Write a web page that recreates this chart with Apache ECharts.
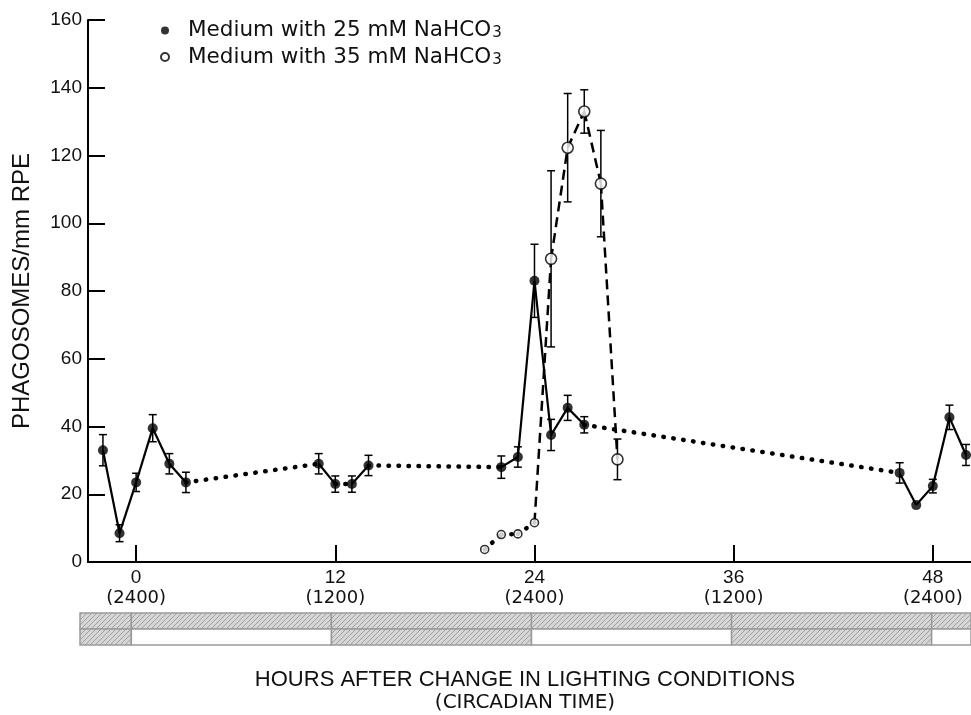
<!DOCTYPE html>
<html lang="en">
<head>
    <meta charset="UTF-8">
    <title>Phagosomes</title>
    <script src="https://cdn.jsdelivr.net/npm/echarts@6/dist/echarts.min.js"></script>
    <style>
        body{ margin: 0; background: #fff; }
    </style>
</head>
<body>
    <div id="main" style="width: 971px; height: 715px;"></div>

    <script>
        // 25 mM NaHCO3 (filled circles)
        var hours25 = [-2, -1, 0, 1, 2, 3, 11, 12, 13, 14, 22, 23, 24, 25, 26, 27, 46, 47, 48, 49, 50];
        var values25 = [33, 8.5, 23.5, 39.5, 29, 23.5, 29, 23, 23, 28.5, 28, 31, 83, 37.5, 45.5, 40.5, 26.3, 16.8, 22.4, 42.7, 31.6];
        var errors25 = [4.6, 2.5, 2.7, 4, 3, 3, 3, 2.4, 2.4, 3, 3.3, 3, 10.8, 4.6, 3.7, 2.4, 3, 0, 2, 3.6, 3.1];
        var links25 = ['solid', 'solid', 'solid', 'solid', 'solid', 'dotted', 'solid', 'dotted', 'solid', 'dotted',
                       'solid', 'solid', 'solid', 'solid', 'solid', 'dotted', 'solid', 'solid', 'solid', 'solid'];

        // 35 mM NaHCO3 (open circles)
        var hours35 = [21, 22, 23, 24, 25, 26, 27, 28, 29];
        var values35 = [3.7, 8.1, 8.3, 11.6, 89.5, 122.3, 133, 111.7, 30.3];
        var errors35 = [0, 0, 0, 0, 26, 16, 6.4, 15.7, 6];
        var links35 = ['dotted', 'dotted', 'dotted', 'dashed', 'dashed', 'dashed', 'dashed', 'dashed'];

        // x ticks and labels
        var xTicks = [0, 12, 24, 36, 48];
        var clockLabels = ['(2400)', '(1200)', '(2400)', '(1200)', '(2400)'];

        // lighting bar: phases, top row all dark, bottom row alternates
        var phaseStart = [-4, 0, 12, 24, 36, 48];
        var phaseEnd = [0, 12, 24, 36, 48, 52];
        var bottomDark = [1, 0, 1, 0, 1, 0];

        var font = "'Liberation Sans', Arial, sans-serif";
        var wideFont = "'DejaVu Sans', sans-serif";
        var xMin = -2.9, xMax = 50.3;
        var barMin = -3.08, barMax = 50.36;

        var mycharts = echarts.init(document.getElementById('main'));

        // hatch pattern for dark phases
        var hatch = document.createElement('canvas');
        hatch.width = 5; hatch.height = 5;
        var hc = hatch.getContext('2d');
        hc.fillStyle = '#d6d6d6';
        hc.fillRect(0, 0, 5, 5);
        hc.strokeStyle = '#a0a0a0';
        hc.lineWidth = 1;
        hc.beginPath();
        hc.moveTo(0, 5); hc.lineTo(5, 0);
        hc.moveTo(-1, 1); hc.lineTo(1, -1);
        hc.moveTo(4, 6); hc.lineTo(6, 4);
        hc.stroke();

        function lineStyleOf(kind) {
            if (kind === 'dotted') return { color: '#000', width: 4.5, type: [0.5, 9.5], cap: 'round' };
            if (kind === 'dashed') return { color: '#000', width: 2.5, type: [10, 6] };
            return { color: '#000', width: 2.2 };
        }

        function segments(hours, values, links) {
            var out = [];
            for (var i = 0; i < links.length; i++) {
                out.push({
                    type: 'line',
                    silent: true,
                    symbol: 'none',
                    z: 2,
                    lineStyle: lineStyleOf(links[i]),
                    data: [[hours[i], values[i]], [hours[i + 1], values[i + 1]]]
                });
            }
            return out;
        }

        function errorData(hours, values, errors) {
            var d = [];
            for (var i = 0; i < hours.length; i++) {
                if (errors[i] > 0) d.push([hours[i], values[i] - errors[i], values[i] + errors[i]]);
            }
            return d;
        }

        function renderError(params, api) {
            var lo = api.coord([api.value(0), api.value(1)]);
            var hi = api.coord([api.value(0), api.value(2)]);
            var w = 4;
            var st = { stroke: '#000', lineWidth: 1.5 };
            return {
                type: 'group',
                children: [
                    { type: 'line', shape: { x1: lo[0], y1: lo[1], x2: hi[0], y2: hi[1] }, style: st },
                    { type: 'line', shape: { x1: hi[0] - w, y1: hi[1], x2: hi[0] + w, y2: hi[1] }, style: st },
                    { type: 'line', shape: { x1: lo[0] - w, y1: lo[1], x2: lo[0] + w, y2: lo[1] }, style: st }
                ]
            };
        }

        function pairs(a, b) {
            return a.map(function (v, i) { return [v, b[i]]; });
        }

        // lighting bar cells
        var barCells = [];
        for (var i = 0; i < phaseStart.length; i++) {
            barCells.push([phaseStart[i], phaseEnd[i], 1, 1]);
            barCells.push([phaseStart[i], phaseEnd[i], 0, bottomDark[i]]);
        }

        function renderBar(params, api) {
            var s = Math.max(api.value(0), barMin);
            var e = Math.min(api.value(1), barMax);
            var row = api.value(2);
            var p0 = api.coord([s, row + 1]);
            var p1 = api.coord([e, row]);
            return {
                type: 'rect',
                shape: { x: p0[0], y: p0[1], width: p1[0] - p0[0], height: p1[1] - p0[1] },
                style: {
                    fill: api.value(3) ? { image: hatch, repeat: 'repeat' } : '#fff',
                    stroke: '#9a9a9a',
                    lineWidth: 1.5
                }
            };
        }

        var series = []
            .concat(segments(hours25, values25, links25))
            .concat(segments(hours35, values35, links35))
            .concat([
                {
                    type: 'custom',
                    silent: true,
                    z: 3,
                    renderItem: renderError,
                    data: errorData(hours25, values25, errors25).concat(errorData(hours35, values35, errors35))
                },
                {
                    name: '25',
                    type: 'scatter',
                    z: 4,
                    symbol: 'circle',
                    symbolSize: 10,
                    itemStyle: { color: '#000' },
                    data: pairs(hours25, values25)
                },
                {
                    name: '35',
                    type: 'scatter',
                    z: 5,
                    symbol: 'circle',
                    symbolSize: function (v) { return v[1] < 15 ? 8 : 11; },
                    itemStyle: { color: '#fff', borderColor: '#000', borderWidth: 1.6 },
                    data: pairs(hours35, values35)
                },
                {
                    type: 'custom',
                    silent: true,
                    xAxisIndex: 1,
                    yAxisIndex: 1,
                    renderItem: renderBar,
                    data: barCells
                }
            ]);

        var option = {
            animation: false,
            textStyle: { fontFamily: font },
            grid: [
                { left: 88, top: 20, right: 0, bottom: 153, containLabel: false },
                { left: 80, right: 0, top: 613, height: 32 }
            ],
            legend: {
                orient: 'vertical',
                left: 155,
                top: 12,
                itemGap: 2,
                itemWidth: 36,
                itemHeight: 8,
                icon: 'circle',
                data: ['25', '35'],
                formatter: function (name) {
                    return '{a|Medium with ' + name + ' mM NaHCO}{s|3}';
                },
                textStyle: {
                    rich: {
                        a: { fontSize: 21.5, fontFamily: wideFont, color: '#111', lineHeight: 21 },
                        s: { fontSize: 15, fontFamily: wideFont, color: '#111', lineHeight: 21, verticalAlign: 'bottom', padding: [9, 0, 0, 1] }
                    }
                }
            },
            xAxis: [
                {
                    type: 'value',
                    min: xMin,
                    max: xMax,
                    axisLine: { onZero: false, lineStyle: { color: '#000', width: 2 } },
                    splitLine: { show: false },
                    axisTick: {
                        inside: true,
                        length: 17,
                        customValues: xTicks,
                        lineStyle: { color: '#000', width: 2 }
                    },
                    axisLabel: {
                        customValues: xTicks,
                        margin: 5,
                        color: '#111',
                        formatter: function (v) {
                            var k = xTicks.indexOf(v);
                            return '{a|' + v + '}\n{b|' + clockLabels[k] + '}';
                        },
                        rich: {
                            a: { fontSize: 19, lineHeight: 21, fontFamily: font, color: '#111' },
                            b: { fontSize: 18, lineHeight: 21, fontFamily: wideFont, color: '#111' }
                        }
                    }
                },
                {
                    type: 'value',
                    gridIndex: 1,
                    min: barMin,
                    max: barMax,
                    show: false
                }
            ],
            yAxis: [
                {
                    type: 'value',
                    min: 0,
                    max: 160,
                    interval: 20,
                    name: 'PHAGOSOMES/mm RPE',
                    nameLocation: 'middle',
                    nameRotate: 90,
                    nameGap: 54,
                    nameTextStyle: { fontSize: 24, color: '#111', fontFamily: font },
                    axisLine: { show: true, onZero: false, lineStyle: { color: '#000', width: 2 } },
                    splitLine: { show: false },
                    axisTick: { inside: true, length: 17, lineStyle: { color: '#000', width: 2 } },
                    axisLabel: { margin: 6, color: '#111', fontSize: 19 }
                },
                {
                    type: 'value',
                    gridIndex: 1,
                    min: 0,
                    max: 2,
                    show: false
                }
            ],
            graphic: [
                {
                    type: 'text',
                    x: 525,
                    y: 680,
                    style: {
                        text: 'HOURS AFTER CHANGE IN LIGHTING CONDITIONS',
                        align: 'center',
                        verticalAlign: 'middle',
                        fontSize: 22,
                        fontFamily: font,
                        fill: '#111'
                    }
                },
                {
                    type: 'text',
                    x: 525,
                    y: 703,
                    style: {
                        text: '(CIRCADIAN TIME)',
                        align: 'center',
                        verticalAlign: 'middle',
                        fontSize: 20,
                        fontFamily: wideFont,
                        fill: '#111'
                    }
                }
            ],
            series: series
        };

        mycharts.setOption(option);
    </script>
</body>
</html>
